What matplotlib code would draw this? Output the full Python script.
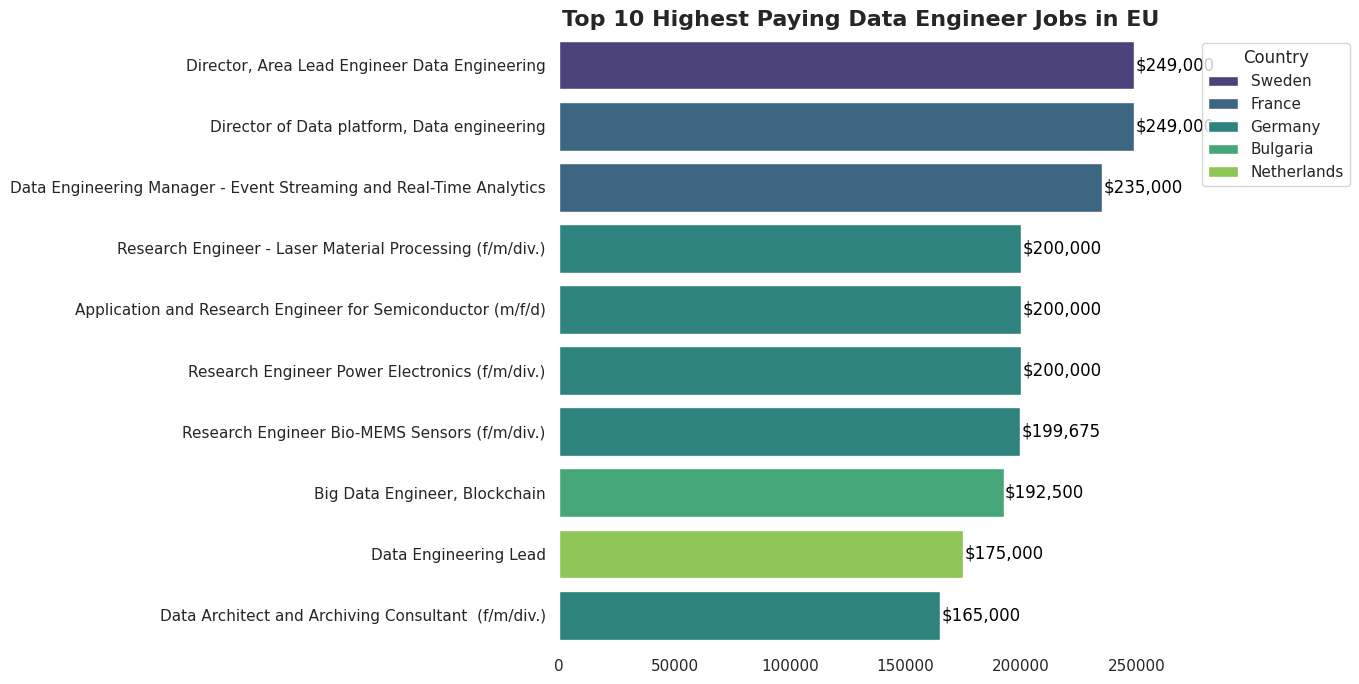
import matplotlib
matplotlib.use("Agg")
import matplotlib.pyplot as plt
import seaborn as sns
import pandas as pd

# top 10 jobs
job_titles = [
    "Director, Area Lead Engineer Data Engineering",
    "Director of Data platform, Data engineering",
    "Data Engineering Manager - Event Streaming and Real-Time Analytics",
    "Research Engineer - Laser Material Processing (f/m/div.)",
    "Application and Research Engineer for Semiconductor (m/f/d)",
    "Research Engineer Power Electronics (f/m/div.)",
    "Research Engineer Bio-MEMS Sensors (f/m/div.)",
    "Big Data Engineer, Blockchain",
    "Data Engineering Lead",
    "Data Architect and Archiving Consultant  (f/m/div.)",
]
salaries = [249000, 249000, 235000, 200000, 200000, 200000, 199675, 192500, 175000, 165000]
countries = ["Sweden", "France", "France", "Germany", "Germany", "Germany",
             "Germany", "Bulgaria", "Netherlands", "Germany"]
country_order = ["Sweden", "France", "Germany", "Bulgaria", "Netherlands"]

df = pd.DataFrame({"job_title": job_titles, "salary": salaries, "country": countries})

sns.set_theme(style="white")

fig, ax = plt.subplots(figsize=(13.59, 6.84), dpi=100)
fig.subplots_adjust(left=0.4113, right=0.8558, top=0.9496, bottom=0.0561)

sns.barplot(data=df, x="salary", y="job_title", hue="country", hue_order=country_order,
            palette="viridis", dodge=False, ax=ax)

# salary labels at the end of each bar
for i, val in enumerate(salaries):
    ax.text(val + 600, i, f"${val:,.0f}", va="center", ha="left", fontsize=12, color="black")

ax.set_title("Top 10 Highest Paying Data Engineer Jobs in EU", fontsize=16, fontweight="bold")
ax.set_xlabel("")
ax.set_ylabel("")
ax.tick_params(axis="both", labelsize=11)
sns.despine(left=True, bottom=True)

ax.legend(title="Country", loc="upper right", bbox_to_anchor=(1350 / 1359, 1 - 42.7 / 684),
          bbox_transform=fig.transFigure, borderaxespad=0, fontsize=11, title_fontsize=12)

fig.savefig("out.png", dpi=100)
